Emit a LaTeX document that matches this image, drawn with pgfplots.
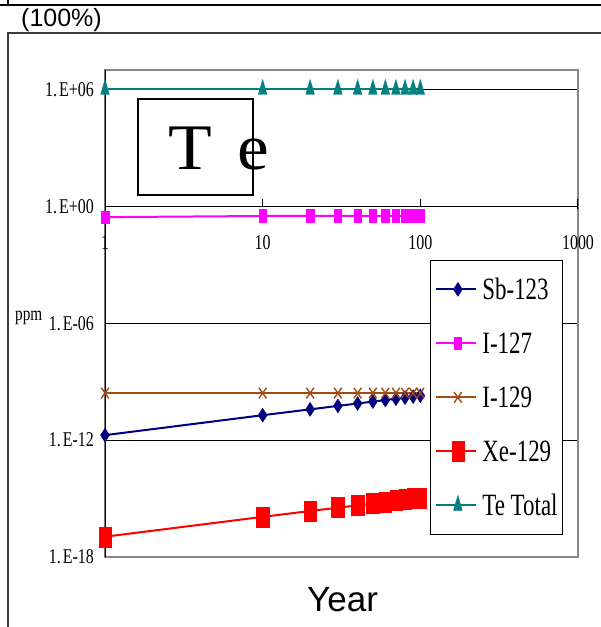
\documentclass[border=0pt]{standalone}
\usepackage{fontspec}
\usepackage{pgfplots}
\pgfplotsset{compat=1.18}
\setmainfont{Liberation Serif}
\newfontfamily\ticfont[FakeStretch=0.76]{Liberation Serif}
\newfontfamily\legfont[FakeStretch=0.74]{Liberation Serif}
\newfontfamily\tefont[FakeStretch=1.1]{Liberation Serif}
\newfontfamily\sansfont{Liberation Sans}

\definecolor{sbcol}{RGB}{0,0,128}
\definecolor{icol}{RGB}{255,0,255}
\definecolor{ibrown}{RGB}{160,76,22}
\definecolor{xecol}{RGB}{255,0,0}
\definecolor{tecol}{RGB}{0,128,128}
\definecolor{bordergray}{RGB}{135,135,135}
\definecolor{framegray}{RGB}{60,60,60}

\begin{document}
\begin{tikzpicture}
\useasboundingbox (0,0) rectangle (601pt,627pt);

% outer chart frames
\draw[line width=1.5pt, black] (0pt,622pt) -- (601pt,622pt);
\draw[line width=1.5pt, black] (8pt,622pt) -- (8pt,630pt);
\draw[line width=2pt, framegray] (8pt,-2pt) -- (8pt,594pt) -- (603pt,594pt);

\node[anchor=base west, inner sep=0pt, font=\sansfont\fontsize{25}{25}\selectfont] at (21pt,600pt) {(100\%)};

\begin{axis}[
  at={(105pt,70pt)}, anchor=south west,
  scale only axis, width=473pt, height=487pt,
  xmode=log, ymode=log,
  xmin=1, xmax=1000, ymin=1e-18, ymax=1e7,
  axis line style={draw=bordergray, line width=1.8pt},
  xtick={1,10,100,1000},
  xticklabels={1,10,100,1000},
  ytick={1e-18,1e-12,1e-6,1,1e6},
  yticklabels={1.\kern2pt E-18,1.\kern2pt E-12,1.\kern2pt E-06,1.\kern2pt E+00,1.\kern2pt E+06},
  minor tick num=0,
  major tick length=0pt, minor tick length=0pt,
  tick style={draw=none},
  ymajorgrids, grid style={black, line width=0.9pt},
  xticklabel style={font=\ticfont\fontsize{21}{21}\selectfont, inner sep=0pt, anchor=north, yshift=322pt},
  yticklabel style={font=\ticfont\fontsize{21}{21}\selectfont, inner sep=0pt, anchor=east, xshift=-11pt},
  legend cell align=left,
  legend style={at={(0.6871,0.6099)}, anchor=north west, draw=black, line width=0.8pt, fill=white,
    inner xsep=5pt, inner ysep=18.5pt, row sep=33pt, column sep=5pt,
    font=\legfont\fontsize{31}{31}\selectfont,
    nodes={inner sep=0pt, text height=21pt, text depth=0pt}},
  legend image code/.code={%
    \path (0pt,0pt) -- (40pt,0pt);
    \draw[mark repeat=2, mark phase=2, #1] plot coordinates {(3pt,0pt) (21.5pt,0pt) (40pt,0pt)};},
]
\addplot[sbcol, line width=2pt, mark=diamond*, mark size=7pt,
  mark options={xscale=0.85, line width=0.4pt}] coordinates {
  (1,1.8e-12) (10,1.9e-11) (20,3.8e-11) (30,5.7e-11) (40,7.6e-11) (50,9.5e-11)
  (60,1.14e-10) (70,1.33e-10) (80,1.52e-10) (90,1.71e-10) (100,1.9e-10)};
\addlegendentry{Sb-123}
\addplot[icol, line width=2pt, mark=square*, mark size=6.3pt,
  mark options={xscale=0.6, line width=0.4pt}] coordinates {
  (1,0.28) (10,0.32) (20,0.32) (30,0.32) (40,0.32) (50,0.32)
  (60,0.32) (70,0.32) (80,0.32) (90,0.32) (100,0.32)};
\addlegendentry{I-127}
\addplot[ibrown, line width=2pt, mark=x, mark size=7.5pt,
  mark options={xscale=0.72, line width=1.4pt}] coordinates {
  (1,2.6e-10) (10,2.6e-10) (20,2.6e-10) (30,2.6e-10) (40,2.6e-10) (50,2.6e-10)
  (60,2.6e-10) (70,2.6e-10) (80,2.6e-10) (90,2.6e-10) (100,2.6e-10)};
\addlegendentry{I-129}
\addplot[xecol, line width=2pt, mark=square*, mark size=10pt,
  mark options={xscale=0.62, line width=0.4pt}] coordinates {
  (1,1.1e-17) (10,1.15e-16) (20,2.3e-16) (30,3.4e-16) (40,4.5e-16) (50,5.6e-16)
  (60,6.7e-16) (70,7.8e-16) (80,8.9e-16) (90,1.0e-15) (100,1.1e-15)};
\addlegendentry{Xe-129}
\addplot[tecol, line width=2pt, mark=triangle*, mark size=10pt,
  mark options={xscale=0.5, line width=0.4pt}] coordinates {
  (1,1e6) (10,1e6) (20,1e6) (30,1e6) (40,1e6) (50,1e6)
  (60,1e6) (70,1e6) (80,1e6) (90,1e6) (100,1e6)};
\addlegendentry{Te Total}

% value axis and the year axis line at 1 ppm with its ticks
\draw[black, line width=1.6pt] (rel axis cs:0,0) -- (rel axis cs:0,1);
\draw[black, line width=1.2pt] (axis cs:10,1) -- ++(0pt,7pt);
\draw[black, line width=1.2pt] (axis cs:100,1) -- ++(0pt,7pt);
\draw[black, line width=1.2pt] (axis cs:1000,1) ++(0pt,-3pt) -- ++(0pt,10pt);
\end{axis}

% element label
\draw[black, line width=1.6pt] (138pt,432pt) rectangle (253pt,528pt);
\node[anchor=base, inner sep=0pt, font=\tefont\fontsize{65}{65}\selectfont] at (190pt,457pt) {T};
\node[anchor=base, inner sep=0pt, font=\tefont\fontsize{65}{65}\selectfont] at (253pt,457pt) {e};

\node[anchor=base west, inner sep=0pt, font=\ticfont\fontsize{20}{20}\selectfont] at (15pt,306pt) {ppm};
\node[anchor=base west, inner sep=0pt, font=\sansfont\fontsize{35}{35}\selectfont] at (307pt,16pt) {Year};
\end{tikzpicture}
\end{document}
